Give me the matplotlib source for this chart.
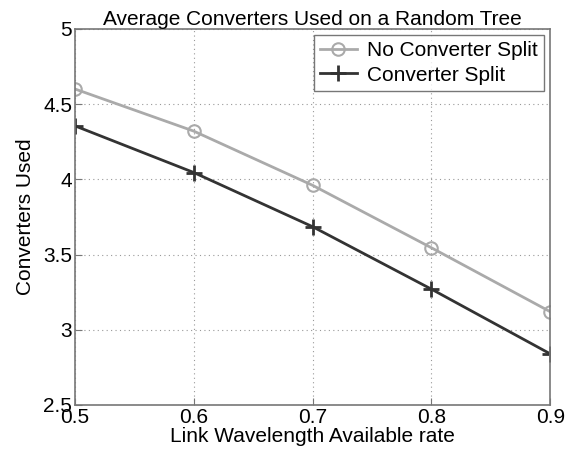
import matplotlib
matplotlib.use("Agg")
import matplotlib.pyplot as plt

x = [0.5, 0.6, 0.7, 0.8, 0.9]
no_split = [4.60, 4.32, 3.96, 3.545, 3.12]
split = [4.355, 4.045, 3.685, 3.27, 2.84]
xticks = [0.5, 0.6, 0.7, 0.8, 0.9]
yticks = [2.5, 3, 3.5, 4, 4.5, 5]
ytick_labels = ["2.5", "3", "3.5", "4", "4.5", "5"]

plt.rcParams['font.family'] = ['Liberation Sans', 'DejaVu Sans']
fig = plt.figure(figsize=(5.81, 4.5), dpi=100)
ax = fig.add_axes([0.129, 0.1, 0.818, 0.836])

ax.plot(x, no_split, color='#aaaaaa', lw=2, marker='o', ms=9, mfc='none', mew=1.5,
        label='No Converter Split')
ax.plot(x, split, color='#333333', lw=2, marker='+', ms=11, mew=2,
        label='Converter Split')

ax.set_xlim(0.5, 0.9)
ax.set_ylim(2.5, 5)
ax.set_xticks(xticks)
ax.set_xticklabels([str(v) for v in xticks])
ax.set_yticks(yticks)
ax.set_yticklabels(ytick_labels)
ax.grid(True, linestyle=(0, (1, 3)), color='#999999', lw=0.8)
ax.tick_params(direction='in', labelsize=15, length=5, color='#777777', pad=2)
for s in ax.spines.values():
    s.set_color('#777777')
    s.set_linewidth(1.2)

ax.set_title('Average Converters Used on a Random Tree', fontsize=15, pad=3)
ax.set_xlabel('Link Wavelength Available rate', fontsize=15, labelpad=0)
ax.set_ylabel('Converters Used', fontsize=15, labelpad=6)

leg = ax.legend(loc='upper right', fontsize=15, frameon=True, fancybox=False,
                borderpad=0.3, handlelength=1.75, handletextpad=0.5,
                labelspacing=0.25, borderaxespad=0.3)
leg.get_frame().set_edgecolor('#555555')
leg.get_frame().set_linewidth(1.0)

fig.savefig('out.png', dpi=100)
